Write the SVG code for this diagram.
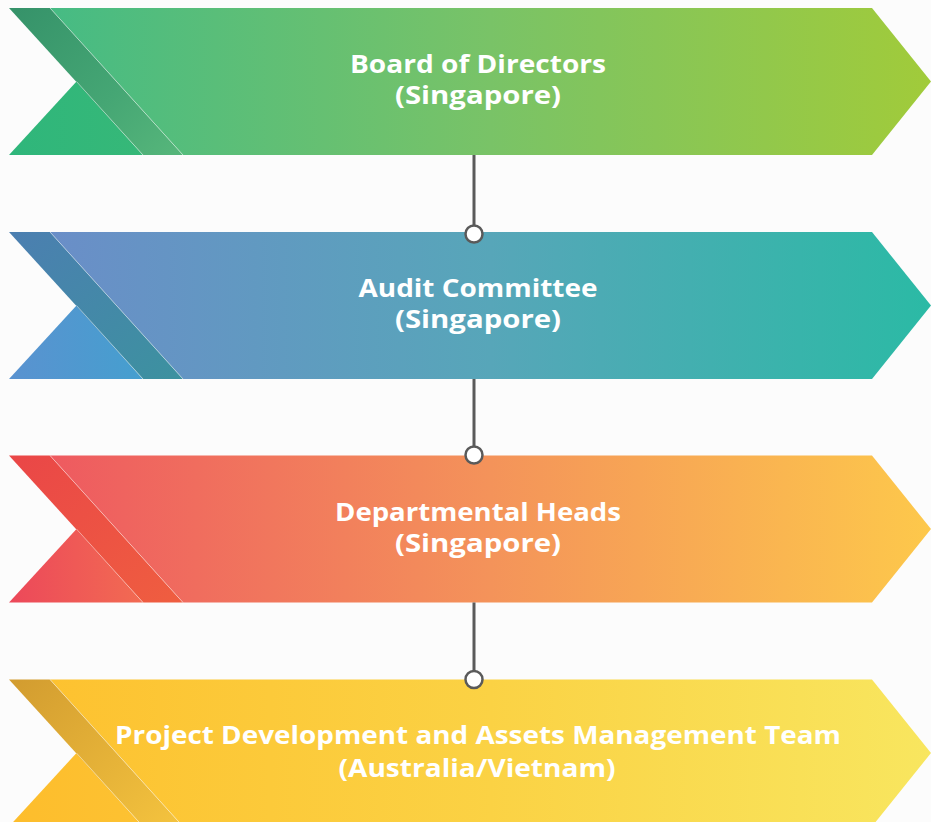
<svg xmlns="http://www.w3.org/2000/svg" width="931" height="822" viewBox="0 0 931 822">
  <defs>
    <style>
      .label { font-family: "Open Sans", "Liberation Sans", sans-serif; font-weight: 700; font-size: 25px; fill: #ffffff; text-anchor: middle; }
      .edge { stroke: #ffffff; stroke-opacity: 0.55; stroke-width: 0.8; fill: none; }
      .link { stroke: #5a5a5a; stroke-width: 3; fill: none; }
      .knob { fill: #ffffff; stroke: #5a5a5a; stroke-width: 2.5; }
    </style>
    <!-- banner shapes in local coordinates (height 147) -->
    <polygon id="body" points="50,0 872,0 931,73.5 872,147 183,147"/>
    <polygon id="band" points="9,0 50,0 183,147 143,147"/>
    <polygon id="foot" points="9,147 76.5,73.5 143,147"/>

    <!-- green -->
    <linearGradient id="g1-body" gradientUnits="userSpaceOnUse" x1="50" y1="0" x2="931" y2="0">
      <stop offset="0" stop-color="#46bb84"/>
      <stop offset="0.5" stop-color="#79c367"/>
      <stop offset="1" stop-color="#a1cb3a"/>
    </linearGradient>
    <linearGradient id="g1-band" gradientUnits="userSpaceOnUse" x1="20" y1="0" x2="170" y2="147">
      <stop offset="0" stop-color="#36936a"/>
      <stop offset="0.6" stop-color="#45a674"/>
      <stop offset="1" stop-color="#55b57a"/>
    </linearGradient>
    <linearGradient id="g1-foot" gradientUnits="userSpaceOnUse" x1="9" y1="0" x2="143" y2="0">
      <stop offset="0" stop-color="#2fb67b"/>
      <stop offset="1" stop-color="#36b878"/>
    </linearGradient>

    <!-- blue / teal -->
    <linearGradient id="g2-body" gradientUnits="userSpaceOnUse" x1="50" y1="0" x2="931" y2="0">
      <stop offset="0" stop-color="#6a8ec8"/>
      <stop offset="0.5" stop-color="#57a6b9"/>
      <stop offset="1" stop-color="#2bbaa5"/>
    </linearGradient>
    <linearGradient id="g2-band" gradientUnits="userSpaceOnUse" x1="20" y1="0" x2="170" y2="147">
      <stop offset="0" stop-color="#4b7fb0"/>
      <stop offset="1" stop-color="#3d91a0"/>
    </linearGradient>
    <linearGradient id="g2-foot" gradientUnits="userSpaceOnUse" x1="9" y1="0" x2="143" y2="0">
      <stop offset="0" stop-color="#5a92d0"/>
      <stop offset="1" stop-color="#459fcf"/>
    </linearGradient>

    <!-- red / orange -->
    <linearGradient id="g3-body" gradientUnits="userSpaceOnUse" x1="50" y1="0" x2="931" y2="0">
      <stop offset="0" stop-color="#ee5a60"/>
      <stop offset="0.5" stop-color="#f4935a"/>
      <stop offset="1" stop-color="#fdc84b"/>
    </linearGradient>
    <linearGradient id="g3-band" gradientUnits="userSpaceOnUse" x1="20" y1="0" x2="170" y2="147">
      <stop offset="0" stop-color="#ea4747"/>
      <stop offset="1" stop-color="#ef5d40"/>
    </linearGradient>
    <linearGradient id="g3-foot" gradientUnits="userSpaceOnUse" x1="9" y1="0" x2="143" y2="0">
      <stop offset="0" stop-color="#ec485a"/>
      <stop offset="1" stop-color="#f26b52"/>
    </linearGradient>

    <!-- yellow -->
    <linearGradient id="g4-body" gradientUnits="userSpaceOnUse" x1="50" y1="0" x2="931" y2="0">
      <stop offset="0" stop-color="#fdc230"/>
      <stop offset="0.5" stop-color="#fbd244"/>
      <stop offset="1" stop-color="#f8e65f"/>
    </linearGradient>
    <linearGradient id="g4-band" gradientUnits="userSpaceOnUse" x1="20" y1="0" x2="170" y2="147">
      <stop offset="0" stop-color="#d39d30"/>
      <stop offset="1" stop-color="#f3c23e"/>
    </linearGradient>
    <linearGradient id="g4-foot" gradientUnits="userSpaceOnUse" x1="9" y1="0" x2="143" y2="0">
      <stop offset="0" stop-color="#fdbd2c"/>
      <stop offset="1" stop-color="#fdc232"/>
    </linearGradient>
  </defs>

  <rect width="931" height="822" fill="#fcfcfc"/>

  <g id="board" transform="translate(0,8)">
    <use href="#body" fill="url(#g1-body)"/>
    <use href="#foot" fill="url(#g1-foot)"/>
    <use href="#band" fill="url(#g1-band)"/>
    <line class="edge" x1="50" y1="0" x2="183" y2="147"/>
    <line class="edge" x1="76.5" y1="73.5" x2="143" y2="147"/>
    <text class="label" x="478" y="65" textLength="256" lengthAdjust="spacingAndGlyphs">Board of Directors</text>
    <text class="label" x="478" y="96" textLength="166" lengthAdjust="spacingAndGlyphs">(Singapore)</text>
  </g>

  <g id="audit" transform="translate(0,232)">
    <use href="#body" fill="url(#g2-body)"/>
    <use href="#foot" fill="url(#g2-foot)"/>
    <use href="#band" fill="url(#g2-band)"/>
    <line class="edge" x1="50" y1="0" x2="183" y2="147"/>
    <line class="edge" x1="76.5" y1="73.5" x2="143" y2="147"/>
    <text class="label" x="478" y="65" textLength="239" lengthAdjust="spacingAndGlyphs">Audit Committee</text>
    <text class="label" x="478" y="96" textLength="166" lengthAdjust="spacingAndGlyphs">(Singapore)</text>
  </g>

  <g id="heads" transform="translate(0,455.5)">
    <use href="#body" fill="url(#g3-body)"/>
    <use href="#foot" fill="url(#g3-foot)"/>
    <use href="#band" fill="url(#g3-band)"/>
    <line class="edge" x1="50" y1="0" x2="183" y2="147"/>
    <line class="edge" x1="76.5" y1="73.5" x2="143" y2="147"/>
    <text class="label" x="478" y="65" textLength="286" lengthAdjust="spacingAndGlyphs">Departmental Heads</text>
    <text class="label" x="478" y="96" textLength="166" lengthAdjust="spacingAndGlyphs">(Singapore)</text>
  </g>

  <g id="project-team" transform="translate(0,679.5)">
    <use href="#body" fill="url(#g4-body)"/>
    <use href="#foot" fill="url(#g4-foot)"/>
    <use href="#band" fill="url(#g4-band)"/>
    <line class="edge" x1="50" y1="0" x2="183" y2="147"/>
    <line class="edge" x1="76.5" y1="73.5" x2="143" y2="147"/>
    <text class="label" x="478" y="64" textLength="726" lengthAdjust="spacingAndGlyphs">Project Development and Assets Management Team</text>
    <text class="label" x="477" y="97" textLength="277" lengthAdjust="spacingAndGlyphs">(Australia/Vietnam)</text>
  </g>

  <!-- connectors, drawn over the banners so the knobs sit on their top edges -->
  <g id="connectors">
    <line class="link" x1="474" y1="155" x2="474" y2="226"/>
    <circle class="knob" cx="474" cy="234" r="8.5"/>
    <line class="link" x1="474" y1="379" x2="474" y2="446"/>
    <circle class="knob" cx="474" cy="455" r="8.5"/>
    <line class="link" x1="474" y1="602.5" x2="474" y2="671"/>
    <circle class="knob" cx="474" cy="679.5" r="8.5"/>
  </g>
</svg>
